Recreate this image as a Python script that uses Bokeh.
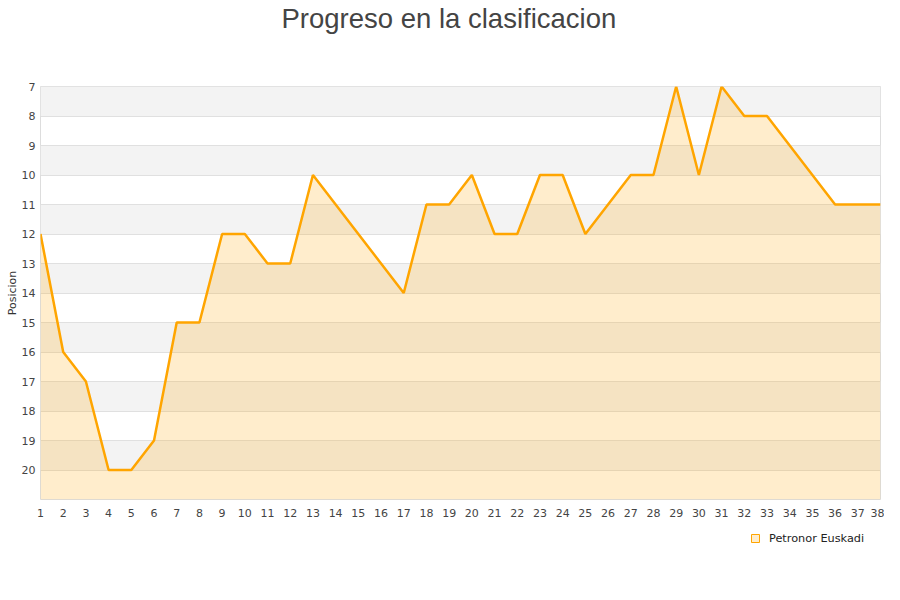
from bokeh.plotting import figure
from bokeh.models import Range1d, FixedTicker, Legend, LegendItem
from bokeh.layouts import column
from bokeh.embed import file_html
from bokeh.resources import INLINE

jornadas = list(range(1, 39))
posiciones = [12, 16, 17, 20, 20, 19, 15, 15, 12, 12, 13, 13, 10, 11, 12, 13, 14, 11, 11, 10,
              12, 12, 10, 10, 12, 11, 10, 10, 7, 10, 7, 8, 8, 9, 10, 11, 11, 11]
y_ticks = list(range(7, 21))
band_ticks = [7] + list(range(7, 22))
serie = "Petronor Euskadi"
titulo = "Progreso en la clasificacion"

# title strip
tf = figure(width=884, height=34, output_backend="svg", toolbar_location=None,
            x_range=Range1d(0, 1), y_range=Range1d(0, 1),
            x_axis_type=None, y_axis_type=None,
            min_border_left=0, min_border_right=0, min_border_top=0, min_border_bottom=0)
tf.outline_line_color = None
tf.grid.visible = False
tf.title.text = titulo
tf.title.text_font = "Liberation Sans"
tf.title.text_font_size = "27.5px"
tf.title.text_font_style = "normal"
tf.title.text_color = "#444444"
tf.title.align = "left"
tf.title.offset = 241
tf.title.standoff = 0

p = figure(width=884, height=486, output_backend="svg", toolbar_location=None,
           x_range=Range1d(1, 38), y_range=Range1d(21, 7),
           min_border_left=40, min_border_right=4, min_border_top=52, min_border_bottom=21)

p.outline_line_color = "#dddddd"
p.background_fill_color = "white"

p.xaxis.ticker = FixedTicker(ticks=jornadas)
p.yaxis.ticker = FixedTicker(ticks=y_ticks)
p.xgrid.visible = False
p.ygrid.ticker = FixedTicker(ticks=band_ticks)
p.ygrid.grid_line_color = "#e0e0e0"
p.ygrid.band_fill_color = "#f3f3f3"
p.ygrid.band_fill_alpha = 1.0

for ax in (p.xaxis[0], p.yaxis[0]):
    ax.axis_line_color = None
    ax.major_tick_line_color = None
    ax.minor_tick_line_color = None
    ax.major_tick_out = 0
    ax.major_tick_in = 0
    ax.minor_tick_out = 0
    ax.major_label_text_font = "DejaVu Sans"
    ax.major_label_text_font_size = "11px"
    ax.major_label_text_color = "#444444"

p.xaxis.major_label_standoff = 9
p.yaxis.major_label_standoff = 5
p.yaxis.axis_label = "Posicion"
p.yaxis.axis_label_text_font = "DejaVu Sans"
p.yaxis.axis_label_text_font_size = "11px"
p.yaxis.axis_label_text_font_style = "normal"
p.yaxis.axis_label_text_color = "#333333"
p.yaxis.axis_label_standoff = 0

p.varea(x=jornadas, y1=posiciones, y2=21, fill_color="#ffa500", fill_alpha=0.2)
p.line(x=jornadas, y=posiciones, line_color="#ffa500", line_width=2.5)

# legend strip below the chart
lg = figure(width=884, height=64, output_backend="svg", toolbar_location=None,
            x_range=Range1d(0, 1), y_range=Range1d(0, 1),
            x_axis_type=None, y_axis_type=None,
            min_border_left=0, min_border_right=0, min_border_top=0, min_border_bottom=0)
lg.outline_line_color = None
lg.grid.visible = False
marker = lg.scatter(x=[-10], y=[-10], marker="square", size=8, fill_color="#ffedcc",
                    line_color="#ffa500", line_width=1)
legend = Legend(items=[LegendItem(label=serie, renderers=[marker])],
                location=(705, 36), orientation="horizontal",
                border_line_color=None, background_fill_alpha=0,
                label_text_font="DejaVu Sans", label_text_font_size="11.3px",
                label_text_color="#222222", glyph_width=20, glyph_height=20,
                label_standoff=4, padding=4, margin=0)
lg.add_layout(legend, "center")

layout = column(tf, p, lg, spacing=0)
open("out.html", "w").write(file_html(layout, INLINE))
